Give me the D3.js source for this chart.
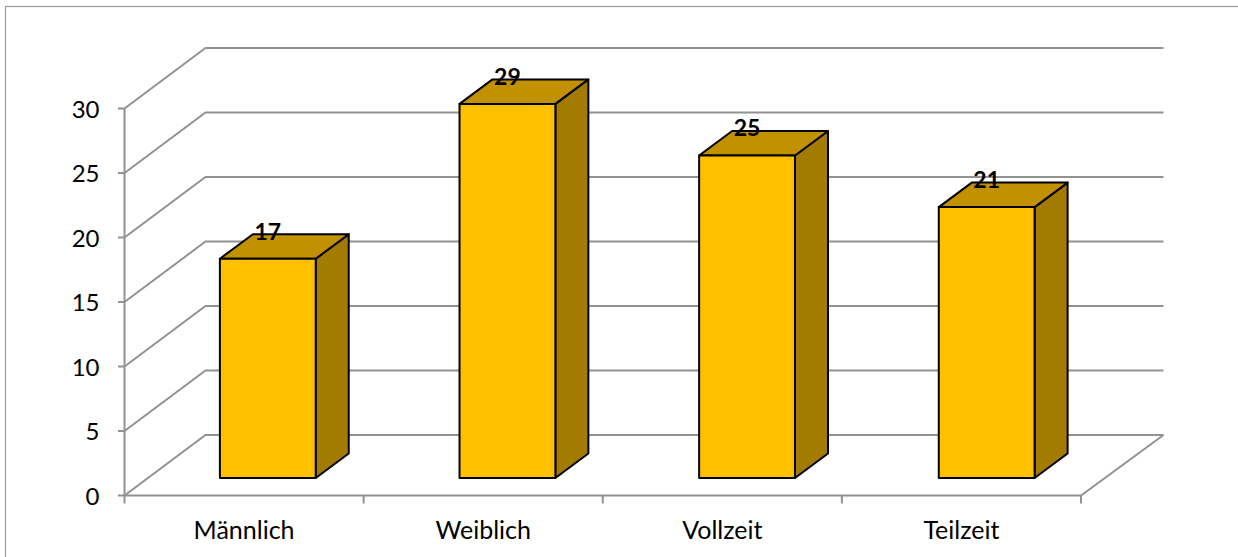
<!DOCTYPE html>
<html><head><meta charset="utf-8">
<style>html,body{margin:0;padding:0;background:#fff}svg{display:block}text{font-family:Lato,"Open Sans",sans-serif;fill:#000}</style>
<script src="https://d3js.org/d3.v7.min.js"></script></head><body>
<div id="chart"></div>
<script>
const categories = ["Männlich","Weiblich","Vollzeit","Teilzeit"];
const values = [17,29,25,21];
const yTicks = [0,5,10,15,20,25,30];

const W=1238,H=557;
const svg=d3.select("#chart").append("svg").attr("width",W).attr("height",H);
const gray="#929292";
const y=d3.scaleLinear().domain([0,30]).range([495.5,108.5]);
const x=d3.scaleBand().domain(categories).range([124.5,1081]);
const dx=81,dy=-60.5;           // wall depth
const barBaseY=478;
const bx=d3.scaleBand().domain(categories).range([124.5,1083]).paddingInner(0.6).paddingOuter(0.3);
const barShift=23.5, dbx=33, dby=-24.5;
const h=v=>y(0)-y(v);

svg.append("rect").attr("x",5.5).attr("y",6.5).attr("width",W).attr("height",H)
  .attr("fill","#fff").attr("stroke","#9a9a9a").attr("stroke-width",1.2);

const g=svg.append("g").attr("fill","none").attr("stroke",gray).attr("stroke-width",2);
// walls
g.selectAll(".w").data(yTicks).join("path")
  .attr("d",t=>`M${x.range()[0]},${y(t)}L${x.range()[0]+dx},${y(t)+dy}L1163.5,${y(t)+dy}`);
// floor right edge and baseline
g.append("path").attr("d",`M${x.range()[0]},${y(0)}L${x.range()[1]},${y(0)}L1163.5,${y(0)+dy}`);
// y axis
g.append("path").attr("d",`M${x.range()[0]},${y(30)}V${y(0)}`);
g.selectAll(".yt").data(yTicks).join("path").attr("d",t=>`M118,${y(t)}H${x.range()[0]}`);
// x ticks
const xEdges=categories.map(c=>x(c)).concat([x.range()[1]]);
g.selectAll(".xt").data(xEdges).join("path").attr("d",e=>`M${e},${y(0)}v8`);

svg.selectAll(".yl").data(yTicks).join("text")
  .attr("x",99.5).attr("y",t=>y(t)+3).attr("text-anchor","end").attr("dominant-baseline","middle")
  .attr("font-size",24).text(t=>t);
svg.selectAll(".xl").data(categories).join("text")
  .attr("x",c=>x(c)+x.bandwidth()/2).attr("y",533).attr("text-anchor","middle").attr("dominant-baseline","middle")
  .attr("font-size",25).text(c=>c);

const bars=svg.selectAll(".bar").data(categories.map((c,i)=>({c,v:values[i]}))).join("g")
  .attr("stroke","#000").attr("stroke-width",2).attr("stroke-linejoin","round");
const L=d=>bx(d.c)+barShift, R=d=>L(d)+bx.bandwidth(), T=d=>barBaseY-h(d.v);
bars.append("path").attr("fill","#A27B00")
  .attr("d",d=>`M${R(d)},${barBaseY}L${R(d)+dbx},${barBaseY+dby}V${T(d)+dby}L${R(d)},${T(d)}Z`);
bars.append("path").attr("fill","#C19100")
  .attr("d",d=>`M${L(d)},${T(d)}L${L(d)+dbx},${T(d)+dby}H${R(d)+dbx}L${R(d)},${T(d)}Z`);
bars.append("path").attr("fill","#FFC000")
  .attr("d",d=>`M${L(d)},${T(d)}H${R(d)}V${barBaseY}H${L(d)}Z`);
svg.selectAll(".dl").data(categories.map((c,i)=>({c,v:values[i]}))).join("text")
  .attr("x",d=>(L(d)+R(d))/2).attr("y",d=>T(d)-25).attr("text-anchor","middle").attr("dominant-baseline","middle")
  .attr("font-size",23).attr("font-weight",700).text(d=>d.v);
</script></body></html>
